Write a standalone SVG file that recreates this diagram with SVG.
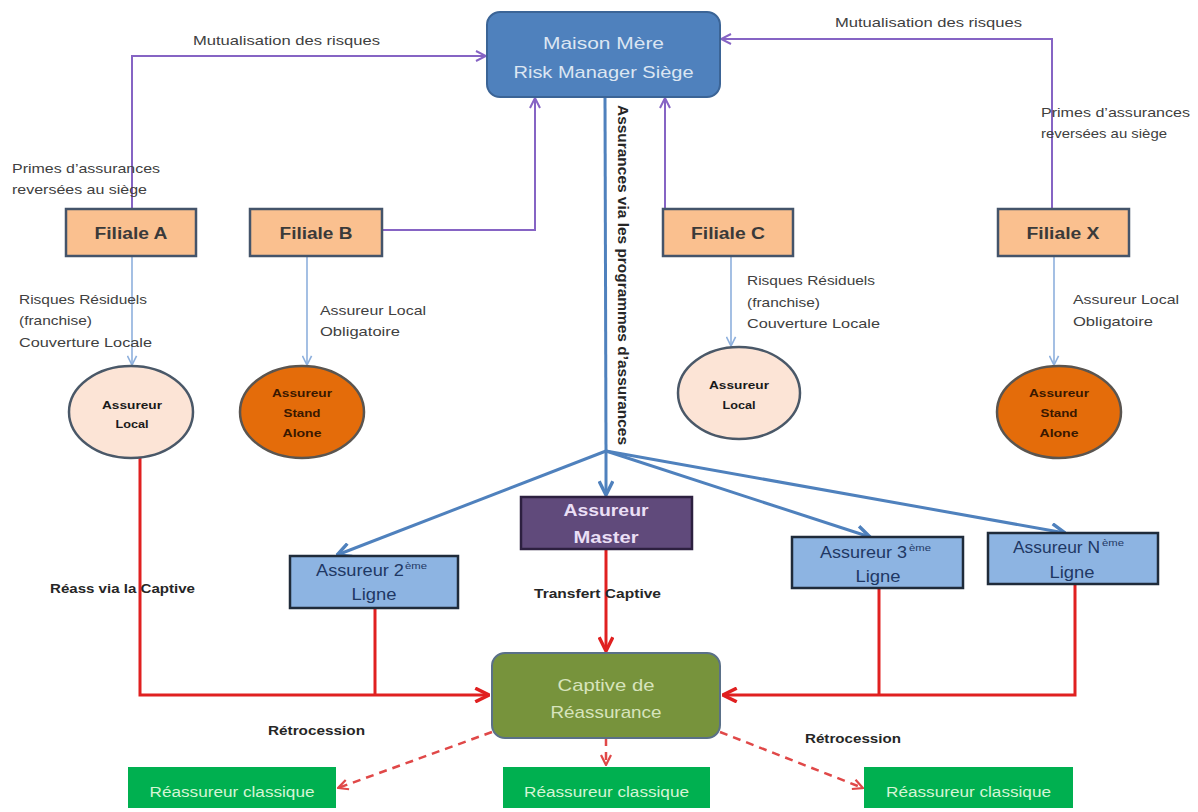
<svg xmlns="http://www.w3.org/2000/svg" width="1198" height="812" viewBox="0 0 1198 812">
<style>
text{font-family:"Liberation Sans",Arial,sans-serif;}
.lbl{font-size:13.5px;fill:#404040;}
.blbl{font-size:12.5px;font-weight:bold;fill:#262626;}
.fil rect{fill:#FAC08F;stroke:#44546A;stroke-width:2.5;}
.fil text{font-size:16px;font-weight:bold;fill:#3a3a3a;text-anchor:middle;}
.ell text{font-size:11px;font-weight:bold;fill:#1a1a1a;text-anchor:middle;}
.loc ellipse{fill:#FCE4D6;stroke:#4A5868;stroke-width:2.5;}
.sa ellipse{fill:#E46C0A;stroke:#5A5550;stroke-width:2.5;}
.sa text{fill:#3a1800;}
.lig rect{fill:#8DB4E2;stroke:#1F2B3A;stroke-width:2.5;}
.lig text{font-size:16px;fill:#1F3864;}
.rea rect{fill:#00B050;}
.rea text{font-size:14px;fill:#D5F5D5;text-anchor:middle;}
.pur{fill:none;stroke:#8664C4;stroke-width:2;}
.lb{fill:none;stroke:#8EB0DD;stroke-width:1.6;}
.bl{fill:none;stroke:#4F81BD;stroke-width:3;}
.rd{fill:none;stroke:#E02020;stroke-width:3;}
.rdd{fill:none;stroke:#E04848;stroke-width:2.5;stroke-dasharray:8,6;}
</style>
<defs>
<marker id="aP" viewBox="0 0 12 12" refX="11" refY="6" markerWidth="12" markerHeight="12" markerUnits="userSpaceOnUse" orient="auto"><path d="M1,1 L11,6 L1,11" fill="none" stroke="#8664C4" stroke-width="2"/></marker>
<marker id="aL" viewBox="0 0 12 12" refX="11" refY="6" markerWidth="11" markerHeight="11" markerUnits="userSpaceOnUse" orient="auto"><path d="M1,1 L11,6 L1,11" fill="none" stroke="#8EB0DD" stroke-width="1.8"/></marker>
<marker id="aB" viewBox="0 0 14 14" refX="13" refY="7" markerWidth="16" markerHeight="16" markerUnits="userSpaceOnUse" orient="auto"><path d="M1,1 L13,7 L1,13" fill="none" stroke="#4F81BD" stroke-width="3"/></marker>
<marker id="aR" viewBox="0 0 14 14" refX="13" refY="7" markerWidth="16" markerHeight="16" markerUnits="userSpaceOnUse" orient="auto"><path d="M1,1 L13,7 L1,13" fill="none" stroke="#E02020" stroke-width="3"/></marker>
<marker id="aD" viewBox="0 0 12 12" refX="11" refY="6" markerWidth="12" markerHeight="12" markerUnits="userSpaceOnUse" orient="auto"><path d="M1,1 L11,6 L1,11" fill="none" stroke="#E04848" stroke-width="2.2"/></marker>
</defs>
<rect width="1198" height="812" fill="#ffffff"/>

<g id="connectors">
<path class="pur" d="M132,209 V56 H486" marker-end="url(#aP)"/>
<path class="pur" d="M382,230 H535 V98" marker-end="url(#aP)"/>
<path class="pur" d="M665,209 V98" marker-end="url(#aP)"/>
<path class="pur" d="M1052,209 V39 H721" marker-end="url(#aP)"/>
<path class="lb" d="M132,256 V365" marker-end="url(#aL)"/>
<path class="lb" d="M307,256 V365" marker-end="url(#aL)"/>
<path class="lb" d="M731,256 V346" marker-end="url(#aL)"/>
<path class="lb" d="M1054,256 V365" marker-end="url(#aL)"/>
<path class="bl" d="M605,97 L606,451"/>
<path class="bl" d="M606,451 V495" marker-end="url(#aB)"/>
<path class="bl" d="M606,451 L337,555" marker-end="url(#aB)"/>
<path class="bl" d="M606,451 L870,537" marker-end="url(#aB)"/>
<path class="bl" d="M606,451 L1065,533" marker-end="url(#aB)"/>
<path class="rd" d="M140,458 V695 H489" marker-end="url(#aR)"/>
<path class="rd" d="M375,609 V695"/>
<path class="rd" d="M606,549 V651" marker-end="url(#aR)"/>
<path class="rd" d="M1075,584 V695 H723" marker-end="url(#aR)"/>
<path class="rd" d="M879,589 V695"/>
<path class="rdd" d="M492,732 L338,788" marker-end="url(#aD)"/>
<path class="rdd" d="M606,738 V765" marker-end="url(#aD)"/>
<path class="rdd" d="M720,732 L863,788" marker-end="url(#aD)"/>
</g>

<g id="labels">
<text class="lbl" x="193" y="45" textLength="187" lengthAdjust="spacingAndGlyphs">Mutualisation des risques</text>
<text class="lbl" x="835" y="27" textLength="187" lengthAdjust="spacingAndGlyphs">Mutualisation des risques</text>
<text class="lbl" x="12" y="173" textLength="148" lengthAdjust="spacingAndGlyphs">Primes d’assurances</text>
<text class="lbl" x="12" y="194" textLength="135" lengthAdjust="spacingAndGlyphs">reversées au siège</text>
<text class="lbl" x="1041" y="117" textLength="149" lengthAdjust="spacingAndGlyphs">Primes d’assurances</text>
<text class="lbl" x="1041" y="138" textLength="126" lengthAdjust="spacingAndGlyphs">reversées au siège</text>
<text class="lbl" x="19" y="304" textLength="128" lengthAdjust="spacingAndGlyphs">Risques Résiduels</text>
<text class="lbl" x="19" y="325" textLength="73" lengthAdjust="spacingAndGlyphs">(franchise)</text>
<text class="lbl" x="19" y="347" textLength="133" lengthAdjust="spacingAndGlyphs">Couverture Locale</text>
<text class="lbl" x="747" y="285" textLength="128" lengthAdjust="spacingAndGlyphs">Risques Résiduels</text>
<text class="lbl" x="747" y="307" textLength="73" lengthAdjust="spacingAndGlyphs">(franchise)</text>
<text class="lbl" x="747" y="328" textLength="133" lengthAdjust="spacingAndGlyphs">Couverture Locale</text>
<text class="lbl" x="320" y="315" textLength="106" lengthAdjust="spacingAndGlyphs">Assureur Local</text>
<text class="lbl" x="320" y="336" textLength="80" lengthAdjust="spacingAndGlyphs">Obligatoire</text>
<text class="lbl" x="1073" y="304" textLength="106" lengthAdjust="spacingAndGlyphs">Assureur Local</text>
<text class="lbl" x="1073" y="326" textLength="80" lengthAdjust="spacingAndGlyphs">Obligatoire</text>
<text class="blbl" transform="translate(618,105) rotate(90)" font-size="14" textLength="340" lengthAdjust="spacingAndGlyphs" style="font-size:14px">Assurances via les  programmes d’assurances</text>
<text class="blbl" x="50" y="593" textLength="145" lengthAdjust="spacingAndGlyphs">Réass via la Captive</text>
<text class="blbl" x="534" y="598" textLength="127" lengthAdjust="spacingAndGlyphs">Transfert Captive</text>
<text class="blbl" x="268" y="735" textLength="97" lengthAdjust="spacingAndGlyphs">Rétrocession</text>
<text class="blbl" x="805" y="743" textLength="96" lengthAdjust="spacingAndGlyphs">Rétrocession</text>
</g>

<g id="maison">
<rect x="487" y="12" width="233" height="85" rx="13" fill="#4F81BD" stroke="#3B6496" stroke-width="2"/>
<text x="603.5" y="49" font-size="17" fill="#DCE6F2" text-anchor="middle" textLength="121" lengthAdjust="spacingAndGlyphs">Maison Mère</text>
<text x="603.5" y="78" font-size="17" fill="#DCE6F2" text-anchor="middle" textLength="180" lengthAdjust="spacingAndGlyphs">Risk Manager Siège</text>
</g>

<g id="filialeA" class="fil"><rect x="66" y="209" width="130" height="47"/><text x="131" y="239" textLength="73" lengthAdjust="spacingAndGlyphs">Filiale A</text></g>
<g id="filialeB" class="fil"><rect x="250" y="209" width="132" height="47"/><text x="316" y="239" textLength="73" lengthAdjust="spacingAndGlyphs">Filiale B</text></g>
<g id="filialeC" class="fil"><rect x="663" y="209" width="130" height="47"/><text x="728" y="239" textLength="74" lengthAdjust="spacingAndGlyphs">Filiale C</text></g>
<g id="filialeX" class="fil"><rect x="998" y="209" width="131" height="47"/><text x="1063" y="239" textLength="73" lengthAdjust="spacingAndGlyphs">Filiale X</text></g>

<g id="localA" class="ell loc"><ellipse cx="131" cy="412" rx="62" ry="46"/><text x="132" y="409" textLength="60" lengthAdjust="spacingAndGlyphs">Assureur</text><text x="132" y="428" textLength="33" lengthAdjust="spacingAndGlyphs">Local</text></g>
<g id="standaloneB" class="ell sa"><ellipse cx="302" cy="412" rx="62" ry="46"/><text x="302" y="397" textLength="60" lengthAdjust="spacingAndGlyphs">Assureur</text><text x="302" y="417" textLength="37" lengthAdjust="spacingAndGlyphs">Stand</text><text x="302" y="437" textLength="39" lengthAdjust="spacingAndGlyphs">Alone</text></g>
<g id="localC" class="ell loc"><ellipse cx="739" cy="393" rx="61" ry="46"/><text x="739" y="389" textLength="60" lengthAdjust="spacingAndGlyphs">Assureur</text><text x="739" y="409" textLength="33" lengthAdjust="spacingAndGlyphs">Local</text></g>
<g id="standaloneX" class="ell sa"><ellipse cx="1059" cy="412" rx="62" ry="46"/><text x="1059" y="397" textLength="60" lengthAdjust="spacingAndGlyphs">Assureur</text><text x="1059" y="417" textLength="37" lengthAdjust="spacingAndGlyphs">Stand</text><text x="1059" y="437" textLength="39" lengthAdjust="spacingAndGlyphs">Alone</text></g>

<g id="master">
<rect x="521" y="497" width="171" height="52" fill="#604A7B" stroke="#2D2040" stroke-width="2.5"/>
<text x="606" y="516" font-size="17" font-weight="bold" fill="#EADFF5" text-anchor="middle" textLength="85" lengthAdjust="spacingAndGlyphs">Assureur</text>
<text x="606" y="543" font-size="17" font-weight="bold" fill="#EADFF5" text-anchor="middle" textLength="65" lengthAdjust="spacingAndGlyphs">Master</text>
</g>

<g id="ligne2" class="lig"><rect x="290" y="556" width="168" height="52"/>
<text x="316" y="576" textLength="88" lengthAdjust="spacingAndGlyphs">Assureur 2</text><text x="405" y="569" style="font-size:9px" textLength="22" lengthAdjust="spacingAndGlyphs">ème</text>
<text x="374" y="600" text-anchor="middle" textLength="45" lengthAdjust="spacingAndGlyphs">Ligne</text></g>
<g id="ligne3" class="lig"><rect x="792" y="537" width="171" height="51"/>
<text x="820" y="558" textLength="87" lengthAdjust="spacingAndGlyphs">Assureur 3</text><text x="909" y="551" style="font-size:9px" textLength="22" lengthAdjust="spacingAndGlyphs">ème</text>
<text x="878" y="582" text-anchor="middle" textLength="45" lengthAdjust="spacingAndGlyphs">Ligne</text></g>
<g id="ligneN" class="lig"><rect x="988" y="533" width="170" height="51"/>
<text x="1013" y="553" textLength="87" lengthAdjust="spacingAndGlyphs">Assureur N</text><text x="1102" y="546" style="font-size:9px" textLength="22" lengthAdjust="spacingAndGlyphs">ème</text>
<text x="1072" y="578" text-anchor="middle" textLength="45" lengthAdjust="spacingAndGlyphs">Ligne</text></g>

<g id="captive">
<rect x="492" y="653" width="228" height="85" rx="13" fill="#77933C" stroke="#5A7088" stroke-width="2"/>
<text x="606" y="691" font-size="17" fill="#D7E4BD" text-anchor="middle" textLength="97" lengthAdjust="spacingAndGlyphs">Captive de</text>
<text x="606" y="718" font-size="17" fill="#D7E4BD" text-anchor="middle" textLength="111" lengthAdjust="spacingAndGlyphs">Réassurance</text>
</g>

<g id="reassureur1" class="rea"><rect x="128" y="767" width="208" height="41"/><text x="232" y="797" textLength="165" lengthAdjust="spacingAndGlyphs">Réassureur classique</text></g>
<g id="reassureur2" class="rea"><rect x="503" y="767" width="207" height="41"/><text x="606.5" y="797" textLength="165" lengthAdjust="spacingAndGlyphs">Réassureur classique</text></g>
<g id="reassureur3" class="rea"><rect x="864" y="767" width="209" height="41"/><text x="968.5" y="797" textLength="165" lengthAdjust="spacingAndGlyphs">Réassureur classique</text></g>
</svg>
